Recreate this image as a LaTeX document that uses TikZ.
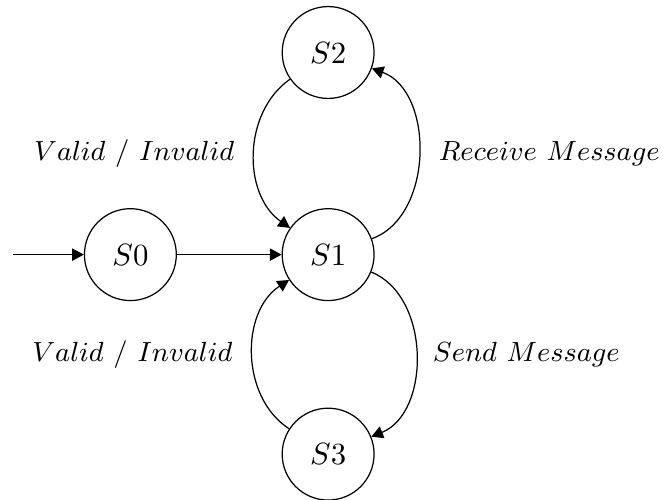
\documentclass[tikz,border=0pt]{standalone}
\usepackage{amsmath, amssymb}
\usepackage{tikz}
\usetikzlibrary{positioning}
\usetikzlibrary{arrows,arrows.meta,shapes}
\tikzset{state/.style={draw,circle,minimum size=1.05cm,inner sep=0pt}}
\tikzset{edgelabel/.style={font=\fontsize{9.5}{11}\selectfont}}

\begin{document}
\begin{tikzpicture}[>={Triangle[length=3.8pt,width=4pt]}]
\useasboundingbox (0,0) rectangle (7.6,-5.714);
\node[state] (S0) at (1.49,-2.91) {$S0$};
\node[state] (S1) at (3.75,-2.91) {$S1$};
\node[state] (S2) at (3.75,-0.6) {$S2$};
\node[state] (S3) at (3.75,-5.19) {$S3$};
\coordinate (start) at (0.15,-2.91);
\draw[->] (start) -- (S0);
\draw[->] (S0) -- (S1);
\draw[->] (S2) to[bend right=55] node[edgelabel,left=3pt] {$Valid\ /\ Invalid$} (S1);
\draw[->] (S1) to[bend right=70] node[edgelabel,right=3pt] {$Receive\ Message$} (S2);
\draw[->] (S1) to[bend left=68] node[edgelabel,right=2pt] {$Send\ Message$} (S3);
\draw[->] (S3) to[bend left=57] node[edgelabel,left=3pt] {$Valid\ /\ Invalid$} (S1);
\end{tikzpicture}
\end{document}
